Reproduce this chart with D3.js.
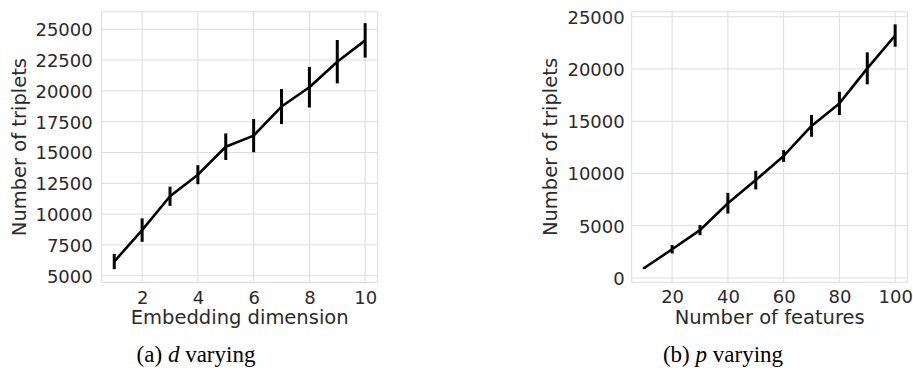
<!DOCTYPE html>
<html>
<head>
<meta charset="utf-8">
<script src="https://cdn.jsdelivr.net/npm/d3@7"></script>
<style>
  html, body { margin: 0; padding: 0; background: #fff; }
  svg { display: block; }
</style>
</head>
<body>
<svg id="fig" width="913" height="370"></svg>
<script>
// (a) number of triplets as the embedding dimension varies
const dims = [1, 2, 3, 4, 5, 6, 7, 8, 9, 10];
const dMeans = [6150, 8700, 11450, 13200, 15470, 16370, 18730, 20300, 22370, 24100];
const dErr = [620, 950, 780, 770, 1080, 1350, 1420, 1650, 1760, 1400];
const dTicksX = [2, 4, 6, 8, 10];
const dTicksY = [5000, 7500, 10000, 12500, 15000, 17500, 20000, 22500, 25000];

// (b) number of triplets as the number of features varies
const features = [10, 20, 30, 40, 50, 60, 70, 80, 90, 100];
const pMeans = [950, 2740, 4570, 7150, 9360, 11670, 14550, 16700, 20060, 23200];
const pErr = [110, 400, 480, 990, 890, 560, 1040, 1115, 1530, 1070];
const pTicksX = [20, 40, 60, 80, 100];
const pTicksY = [0, 5000, 10000, 15000, 20000, 25000];

const svg = d3.select("#fig");
const textColor = "#2b2b2b";
const gridColor = "#dddddd";

function panel(opts) {
  const g = svg.append("g");
  const x = d3.scaleLinear().domain(opts.xDomain).range([opts.left, opts.right]);
  const y = d3.scaleLinear().domain(opts.yDomain).range([opts.bottom, opts.top]);

  // grid lines
  g.append("g").selectAll("line").data(opts.ticksX).join("line")
    .attr("x1", d => x(d)).attr("x2", d => x(d))
    .attr("y1", opts.top).attr("y2", opts.bottom)
    .attr("stroke", gridColor).attr("stroke-width", 1);
  g.append("g").selectAll("line").data(opts.ticksY).join("line")
    .attr("x1", opts.left).attr("x2", opts.right)
    .attr("y1", d => y(d)).attr("y2", d => y(d))
    .attr("stroke", gridColor).attr("stroke-width", 1);

  // frame
  g.append("rect")
    .attr("x", opts.left).attr("y", opts.top)
    .attr("width", opts.right - opts.left).attr("height", opts.bottom - opts.top)
    .attr("fill", "none").attr("stroke", gridColor).attr("stroke-width", 1);

  // tick labels
  const xAxis = d3.axisBottom(x).tickValues(opts.ticksX).tickSize(0).tickPadding(0);
  const ax = g.append("g").attr("transform", `translate(0,${opts.bottom})`).call(xAxis);
  ax.select(".domain").remove();
  ax.selectAll("text")
    .attr("y", 21).attr("dy", null)
    .attr("fill", textColor)
    .style("font-family", "DejaVu Sans").style("font-size", "18px");

  const yAxis = d3.axisLeft(y).tickValues(opts.ticksY).tickSize(0).tickPadding(0)
    .tickFormat(d3.format("d"));
  const ay = g.append("g").attr("transform", `translate(${opts.left},0)`).call(yAxis);
  ay.select(".domain").remove();
  ay.selectAll("text")
    .attr("x", -opts.yPad).attr("dy", "0.36em")
    .attr("fill", textColor)
    .style("font-family", "DejaVu Sans").style("font-size", "18px");

  // axis titles
  g.append("text")
    .attr("x", (opts.left + opts.right) / 2).attr("y", 323.5)
    .attr("text-anchor", "middle").attr("fill", textColor)
    .style("font-family", "DejaVu Sans").style("font-size", "19.5px")
    .text(opts.xLabel);
  g.append("text")
    .attr("transform", `translate(${opts.yLabelX},${(opts.top + opts.bottom) / 2}) rotate(-90)`)
    .attr("text-anchor", "middle").attr("fill", textColor)
    .style("font-family", "DejaVu Sans").style("font-size", "19.5px")
    .text("Number of triplets");

  // mean line
  const pts = opts.xs.map((v, i) => [v, opts.means[i]]);
  g.append("path")
    .datum(pts)
    .attr("d", d3.line().x(d => x(d[0])).y(d => y(d[1])))
    .attr("fill", "none").attr("stroke", "#000").attr("stroke-width", 2.6)
    .attr("stroke-linejoin", "round").attr("stroke-linecap", "butt");

  // error bars (no caps)
  g.append("g").selectAll("line").data(opts.xs.map((v, i) => [v, opts.means[i], opts.errs[i]]))
    .join("line")
    .attr("x1", d => x(d[0])).attr("x2", d => x(d[0]))
    .attr("y1", d => y(d[1] - d[2])).attr("y2", d => y(d[1] + d[2]))
    .attr("stroke", "#000").attr("stroke-width", 3);

  // sub-caption
  const cap = g.append("text")
    .attr("x", opts.captionX).attr("y", 362)
    .attr("text-anchor", "middle").attr("fill", "#000")
    .style("font-family", "Liberation Serif").style("font-size", "23px");
  cap.append("tspan").text(opts.captionPre + " ");
  cap.append("tspan").style("font-style", "italic").text(opts.captionVar);
  cap.append("tspan").text(" varying");
}

panel({
  left: 101.7, right: 377.7, top: 11.7, bottom: 282.5,
  xDomain: [0.55, 10.45], yDomain: [4448, 26429],
  ticksX: dTicksX, ticksY: dTicksY, yPad: 9,
  xs: dims, means: dMeans, errs: dErr,
  xLabel: "Embedding dimension", yLabelX: 26,
  captionX: 196, captionPre: "(a)", captionVar: "d"
});

panel({
  left: 631.7, right: 907.7, top: 11.7, bottom: 282.3,
  xDomain: [5.5, 104.5], yDomain: [-420, 25480],
  ticksX: pTicksX, ticksY: pTicksY, yPad: 7,
  xs: features, means: pMeans, errs: pErr,
  xLabel: "Number of features", yLabelX: 557,
  captionX: 723, captionPre: "(b)", captionVar: "p"
});
</script>
</body>
</html>
